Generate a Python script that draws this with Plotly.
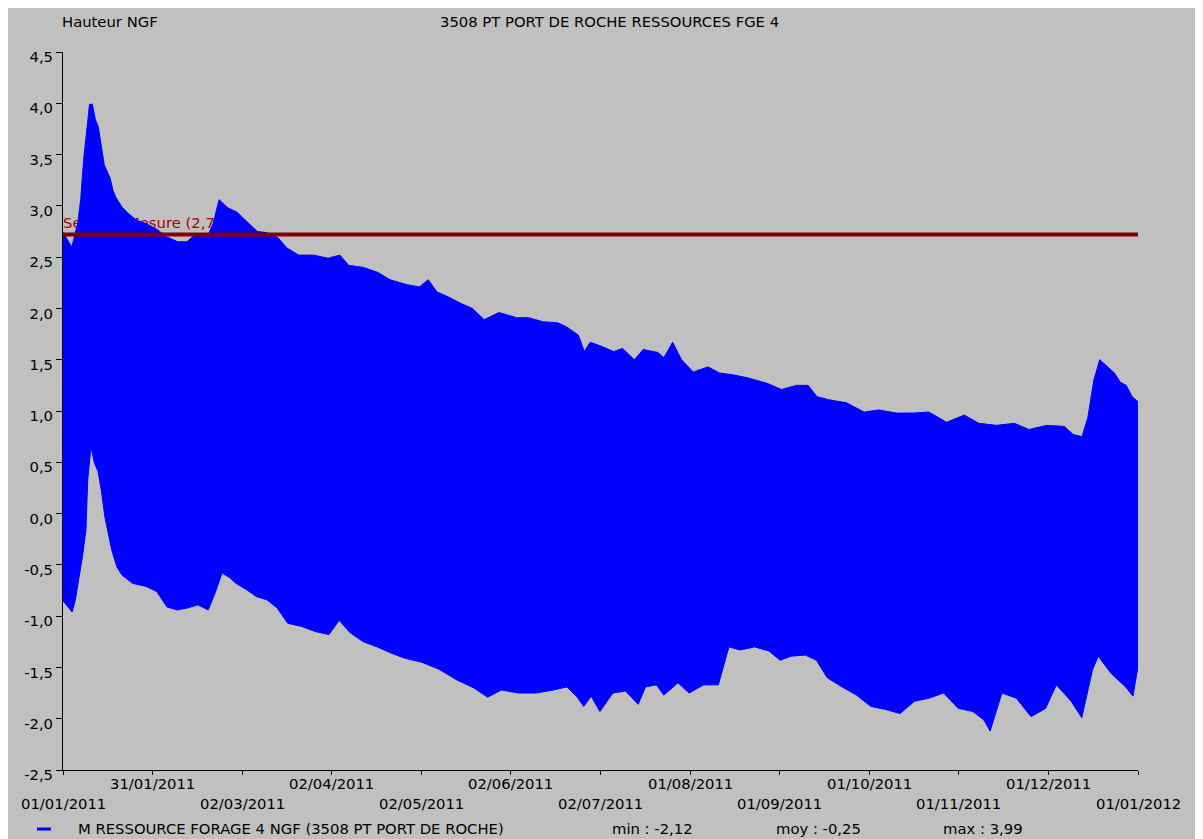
import pandas as pd
import plotly.graph_objects as go

# ---------------- data ----------------
start_date = "2011-01-01"
end_date = "2012-01-01"

# upper envelope of the measured level (day offset from 01/01/2011, value m NGF)
upper_day = [0, 3, 5, 6, 7, 8, 9, 10, 11, 12, 13, 14, 16, 17, 18, 20, 22, 25, 28, 32,
             35, 39, 42, 45, 49, 51, 53, 56, 59, 62, 66, 69, 73, 76, 80, 85, 90, 94, 97, 102,
             107, 111, 117, 121, 124, 127, 131, 135, 139, 143, 148, 154, 158, 163, 168, 171, 175, 177, 179, 182,
             187, 190, 194, 197, 202, 204, 207, 210, 214, 219, 223, 228, 233, 239, 244, 249, 253, 256, 260, 266,
             272, 277, 283, 289, 294, 300, 306, 311, 317, 323, 328, 334, 340, 343, 346, 348, 350, 352, 355, 357,
             359, 361, 363, 365]
upper_val = [2.74, 2.60, 2.83, 3.06, 3.45, 3.71, 3.99, 3.99, 3.84, 3.77, 3.56, 3.40, 3.27, 3.15, 3.08, 2.99, 2.93, 2.86, 2.83, 2.77,
             2.70, 2.65, 2.65, 2.72, 2.70, 2.83, 3.06, 2.98, 2.94, 2.86, 2.75, 2.74, 2.69, 2.59, 2.52, 2.52, 2.49, 2.52, 2.42, 2.40,
             2.35, 2.28, 2.23, 2.21, 2.28, 2.16, 2.11, 2.05, 2.00, 1.89, 1.96, 1.91, 1.91, 1.87, 1.86, 1.82, 1.74, 1.58, 1.67, 1.64,
             1.58, 1.61, 1.50, 1.60, 1.57, 1.52, 1.67, 1.50, 1.38, 1.43, 1.37, 1.35, 1.32, 1.27, 1.21, 1.25, 1.25, 1.14, 1.11, 1.08,
             0.99, 1.01, 0.98, 0.98, 0.99, 0.89, 0.96, 0.88, 0.86, 0.88, 0.82, 0.86, 0.85, 0.77, 0.75, 0.94, 1.30, 1.50, 1.42, 1.37,
             1.28, 1.25, 1.14, 1.09]

# lower envelope of the measured level
lower_day = [0, 0.7, 3.1, 4.2, 5.4, 6.6, 7.8, 8.4, 9.5, 10.7, 11.9, 13.0, 14.2, 15.4, 16.5, 18.3, 20, 23.6, 28.2, 31.8,
             35.3, 38.8, 42.3, 45.8, 49.3, 51.7, 54, 56.4, 58.7, 62.2, 65.7, 69.2, 72.7, 76.3, 81, 85.6, 90.3, 93.8, 97.4, 102,
             106.7, 111.4, 116, 121.9, 127.8, 133.6, 139.5, 144.2, 148.9, 154.7, 160.6, 166.5, 171.1, 174.6, 176.8, 179.3, 182.3, 186.7, 191, 195.3,
             197.8, 201.5, 204, 208.8, 212.6, 217.5, 222.5, 226.1, 229.9, 234.8, 239.7, 243.5, 247.2, 252.1, 255.8, 259.5, 264.5, 269.4, 274.3, 279.3,
             284.2, 289.1, 294, 299, 304, 308.9, 312.6, 314.8, 318.8, 323.7, 328.7, 333.6, 337.3, 342.3, 345.9, 349.6, 351.5, 355.9, 360.8, 363.3,
             365]
lower_val = [-0.85, -0.87, -0.96, -0.84, -0.65, -0.42, -0.16, 0.33, 0.65, 0.49, 0.41, 0.23, -0.03, -0.19, -0.35, -0.52, -0.60, -0.68, -0.71, -0.76,
             -0.91, -0.94, -0.92, -0.89, -0.94, -0.77, -0.58, -0.62, -0.68, -0.74, -0.81, -0.84, -0.92, -1.07, -1.10, -1.15, -1.18, -1.04, -1.16, -1.25,
             -1.30, -1.36, -1.41, -1.45, -1.52, -1.62, -1.70, -1.79, -1.72, -1.75, -1.75, -1.72, -1.69, -1.79, -1.88, -1.78, -1.93, -1.75, -1.73, -1.86,
             -1.69, -1.67, -1.77, -1.65, -1.75, -1.67, -1.67, -1.30, -1.33, -1.30, -1.34, -1.43, -1.39, -1.38, -1.43, -1.60, -1.69, -1.77, -1.88, -1.91,
             -1.95, -1.83, -1.80, -1.75, -1.90, -1.93, -2.01, -2.12, -1.75, -1.80, -1.98, -1.90, -1.67, -1.83, -1.99, -1.52, -1.39, -1.56, -1.69, -1.78,
             -1.49]

threshold = 2.72
threshold_label = "Seuil de Mesure (2,72)"

y_tick_vals = [-2.5, -2.0, -1.5, -1.0, -0.5, 0.0, 0.5, 1.0, 1.5, 2.0, 2.5, 3.0, 3.5, 4.0, 4.5]
y_tick_text = ["-2,5", "-2,0", "-1,5", "-1,0", "-0,5", "0,0", "0,5", "1,0", "1,5", "2,0", "2,5", "3,0", "3,5", "4,0", "4,5"]

x_tick_labels = ["01/01/2011", "31/01/2011", "02/03/2011", "02/04/2011", "02/05/2011", "02/06/2011",
                 "02/07/2011", "01/08/2011", "01/09/2011", "01/10/2011", "01/11/2011", "01/12/2011", "01/01/2012"]

title_text = "3508 PT PORT DE ROCHE RESSOURCES FGE 4"
y_title = "Hauteur NGF"
series_name = "M RESSOURCE FORAGE 4 NGF (3508 PT PORT DE ROCHE)"
stat_texts = ["min : -2,12", "moy : -0,25", "max : 3,99"]

# ---------------- build ----------------
t0 = pd.Timestamp(start_date)
t1 = pd.Timestamp(end_date)
to_dates = lambda days: [t0 + pd.Timedelta(days=d) for d in days]
upper_x = to_dates(upper_day)
lower_x = to_dates(lower_day)

FONT = "DejaVu Sans, Liberation Sans, sans-serif"
FS = 14.8
BLUE = "#0000FF"
RED = "#800000"
GRAY = "#C0C0C0"

fig = go.Figure()

# threshold label (drawn below the data)
fig.add_trace(go.Scatter(x=[t0], y=[threshold + 0.03], mode="text", text=[threshold_label],
                         textposition="top right", cliponaxis=False,
                         textfont=dict(family=FONT, size=FS, color="#A00000"),
                         hoverinfo="skip", showlegend=False))

# measured band
fig.add_trace(go.Scatter(x=upper_x + lower_x[::-1], y=upper_val + lower_val[::-1],
                         mode="lines", fill="toself", fillcolor=BLUE,
                         line=dict(color=BLUE, width=1), name=series_name, showlegend=False))

# threshold line
fig.add_trace(go.Scatter(x=[t0, t1], y=[threshold, threshold], mode="lines",
                         line=dict(color=RED, width=4), hoverinfo="skip", showlegend=False))

n = len(x_tick_labels) - 1
span = (t1 - t0) / n
x_tick_pos = [t0 + span * i for i in range(len(x_tick_labels))]

annotations = []
for i, (pos, lab) in enumerate(zip(x_tick_pos, x_tick_labels)):
    annotations.append(dict(x=pos, xref="x", y=0, yref="paper", text=lab, showarrow=False,
                            xanchor="center", yanchor="middle", yshift=-13 if i % 2 else -33,
                            font=dict(family=FONT, size=FS, color="black")))

annotations.append(dict(x=-0.003, xref="paper", y=1.0418, yref="paper", text=y_title, showarrow=False,
                        xanchor="left", yanchor="middle", font=dict(family=FONT, size=FS, color="black")))
annotations.append(dict(x=0.5088, xref="paper", y=1.0418, yref="paper", text=title_text, showarrow=False,
                        xanchor="center", yanchor="middle", font=dict(family=FONT, size=FS, color="black")))
annotations.append(dict(x=0.0125, xref="paper", y=-0.0808, yref="paper", text=series_name, showarrow=False,
                        xanchor="left", yanchor="middle", font=dict(family=FONT, size=FS, color="black")))
for xp, st in zip([0.5085, 0.6610, 0.8165], stat_texts):
    annotations.append(dict(x=xp, xref="paper", y=-0.0808, yref="paper", text=st, showarrow=False,
                            xanchor="left", yanchor="middle", font=dict(family=FONT, size=FS, color="black")))

shapes = [
    dict(type="line", xref="paper", yref="paper", x0=-0.0242, x1=-0.0112, y0=-0.0822, y1=-0.0822,
         line=dict(color=BLUE, width=3)),
]

fig.update_layout(
    width=1195, height=831,
    margin=dict(l=55, r=65, t=44, b=69),
    paper_bgcolor=GRAY, plot_bgcolor=GRAY,
    showlegend=False,
    annotations=annotations, shapes=shapes,
    font=dict(family=FONT, size=FS, color="black"),
    xaxis=dict(type="date", range=[t0, t1], tickvals=x_tick_pos, showticklabels=False,
               ticks="outside", ticklen=4, tickcolor="black", showline=True, linecolor="black",
               linewidth=1, showgrid=False, zeroline=False),
    yaxis=dict(range=[-2.5, 4.5], tickvals=y_tick_vals, ticktext=y_tick_text,
               ticks="outside", ticklen=6, tickcolor="black", showline=True, linecolor="black",
               linewidth=1, showgrid=False, zeroline=False, ticklabelshift=5,
               tickfont=dict(family=FONT, size=FS, color="black")),
)

fig.write_html("out.html")
